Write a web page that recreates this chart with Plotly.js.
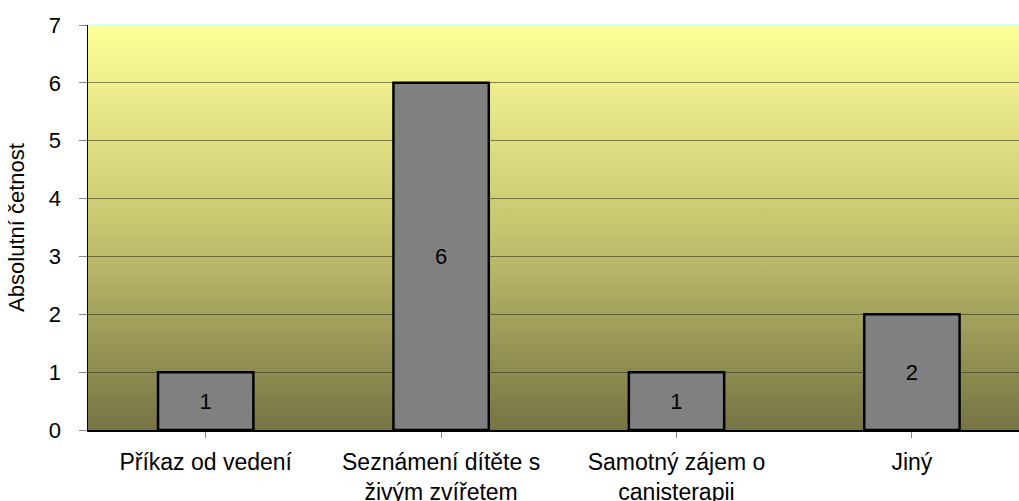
<!DOCTYPE html>
<html>
<head>
<meta charset="utf-8">
<script src="https://cdn.plot.ly/plotly-3.0.1.min.js"></script>
<style>html,body{margin:0;padding:0;overflow:hidden;background:#fff}</style>
</head>
<body>
<div id="chart" style="width:1019px;height:501px"></div>
<script>
const categories = ["Příkaz od vedení", "Seznámení dítěte s<br>živým zvířetem", "Samotný zájem o<br>canisterapii", "Jiný"];
const values = [1, 6, 1, 2];
const valueLabels = ["1", "6", "1", "2"];
const yTicks = [0, 1, 2, 3, 4, 5, 6, 7];

const svg = '<svg xmlns="http://www.w3.org/2000/svg" width="10" height="100" preserveAspectRatio="none">' +
  '<defs><linearGradient id="g" x1="0" y1="0" x2="0" y2="1">' +
  '<stop offset="0" stop-color="rgb(255,255,153)"/>' +
  '<stop offset="0.5" stop-color="rgb(198,198,112)"/>' +
  '<stop offset="1" stop-color="rgb(118,116,68)"/>' +
  '</linearGradient></defs><rect width="10" height="100" fill="url(#g)"/></svg>';
const bgUri = 'data:image/svg+xml;base64,' + btoa(svg);

const trace = {
  type: 'bar',
  x: [0, 1, 2, 3],
  y: values,
  text: valueLabels,
  textposition: 'inside',
  insidetextanchor: 'middle',
  constraintext: 'none',
  textfont: {family: 'Liberation Sans, Arial, sans-serif', size: 22, color: '#000'},
  marker: {color: '#808080', line: {color: '#000', width: 2.5}},
  hoverinfo: 'none'
};

const layout = {
  width: 1019, height: 501,
  margin: {l: 88, r: 0, t: 25, b: 71},
  paper_bgcolor: '#fff',
  plot_bgcolor: 'rgba(0,0,0,0)',
  bargap: 0.595,
  showlegend: false,
  font: {family: 'Liberation Sans, Arial, sans-serif', size: 22, color: '#000'},
  images: [{
    source: bgUri, xref: 'paper', yref: 'paper', x: 0, y: 1,
    sizex: 1, sizey: 1, sizing: 'stretch', xanchor: 'left', yanchor: 'top', layer: 'below'
  }],
  xaxis: {
    range: [-0.5, 3.455],
    tickmode: 'array',
    tickvals: [0, 1, 2, 3],
    ticktext: categories,
    tickson: 'boundaries',
    ticks: 'outside', ticklen: 6, tickcolor: '#888', tickwidth: 1,
    ticklabelstandoff: 5,
    showgrid: false, zeroline: false,
    showline: true, linecolor: '#000', linewidth: 1.5,
    tickfont: {size: 23}
  },
  yaxis: {
    range: [0, 7],
    tickmode: 'array',
    tickvals: yTicks,
    ticks: 'outside', ticklen: 8, tickcolor: '#888', tickwidth: 1,
    ticklabelstandoff: 13,
    showgrid: true, gridcolor: 'rgba(40,40,20,0.55)', gridwidth: 1,
    zeroline: false,
    showline: true, linecolor: '#000', linewidth: 1.5,
    tickfont: {size: 22},
    title: {text: 'Absolutní četnost', font: {size: 22}, standoff: 18}
  },
  shapes: [{
    type: 'line', xref: 'paper', yref: 'paper', x0: 0, x1: 1, y0: 1, y1: 1,
    line: {color: '#ccffff', width: 2}
  }]
};

Plotly.newPlot('chart', [trace], layout, {displayModeBar: false, staticPlot: true});
</script>
</body>
</html>
